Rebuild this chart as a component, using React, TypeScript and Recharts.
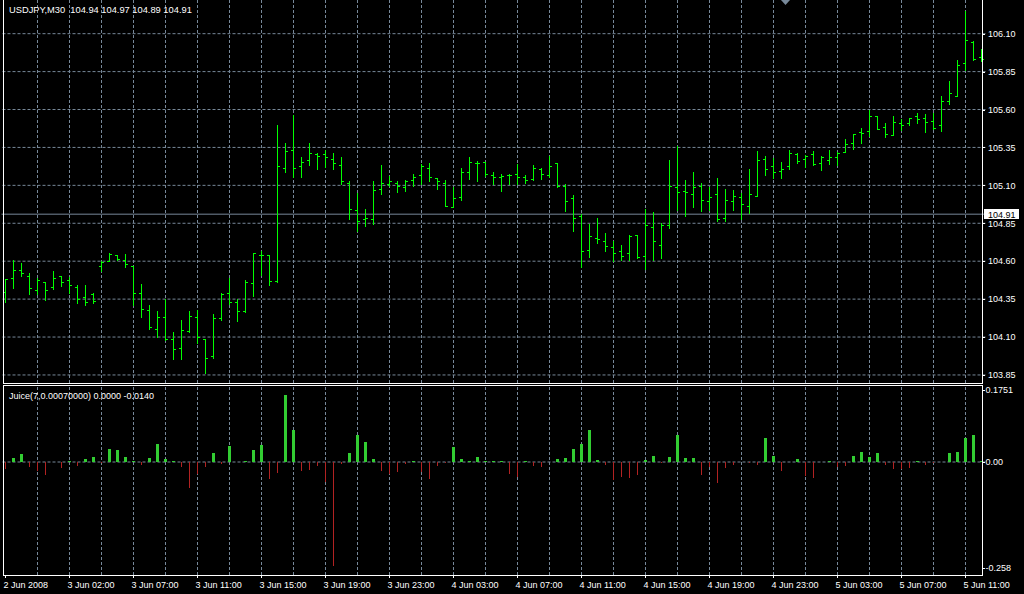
import React from 'react';
import { ComposedChart, BarChart, Bar, XAxis, YAxis, ReferenceLine } from 'recharts';

// ---------- data ----------
const symbolTitle = 'USDJPY,M30';
const lastOHLC = ['104.94', '104.97', '104.89', '104.91'];
const indicatorTitle = 'Juice(7,0.00070000) 0.0000 -0.0140';
const currentPrice = 104.91;

const opens = [
  104.40, 104.486, 104.545, 104.503, 104.413, 104.466, 104.429, 104.501, 104.479, 104.429,
  104.365, 104.387, 104.567, 104.602, 104.640, 104.607, 104.569, 104.393, 104.277, 104.152,
  104.233, 104.086, 104.026, 104.138, 104.235, 104.086, 103.976, 104.224, 104.391, 104.330,
  104.273, 104.459, 104.644, 104.644, 104.468, 105.213, 105.334, 105.226, 105.268, 105.308,
  105.308, 105.273, 105.233, 105.114, 104.938, 104.879, 104.879, 105.077, 105.108, 105.114,
  105.088, 105.138, 105.167, 105.215, 105.147, 105.114, 104.956, 105.022, 105.189, 105.246,
  105.255, 105.167, 105.152, 105.167, 105.174, 105.152, 105.145, 105.209, 105.167, 105.246,
  105.095, 105.018, 104.895, 104.671, 104.754, 104.730, 104.691, 104.664, 104.651, 104.776,
  104.631, 104.823, 104.710, 104.840, 105.086, 105.066, 105.040, 105.093, 104.996, 105.040,
  104.882, 104.996, 105.020, 104.961, 105.033, 105.271, 105.225, 105.192, 105.225, 105.306,
  105.271, 105.306, 105.249, 105.266, 105.284, 105.322, 105.381, 105.454, 105.456, 105.558,
  105.483, 105.434, 105.513, 105.513, 105.558, 105.542, 105.522, 105.496, 105.655, 105.692,
  105.906, 106.043, 105.946,
];
const highs = [
  104.481, 104.607, 104.589, 104.525, 104.486, 104.466, 104.538, 104.501, 104.497, 104.440,
  104.444, 104.393, 104.602, 104.657, 104.644, 104.646, 104.569, 104.451, 104.310, 104.270,
  104.352, 104.134, 104.211, 104.270, 104.281, 104.086, 104.251, 104.391, 104.486, 104.354,
  104.479, 104.657, 104.668, 104.644, 105.499, 105.380, 105.565, 105.286, 105.380, 105.314,
  105.336, 105.314, 105.286, 105.130, 105.048, 104.945, 105.130, 105.235, 105.160, 105.130,
  105.136, 105.176, 105.240, 105.248, 105.147, 105.136, 105.088, 105.215, 105.286, 105.262,
  105.255, 105.187, 105.176, 105.174, 105.242, 105.167, 105.233, 105.215, 105.295, 105.246,
  105.108, 105.037, 104.910, 104.842, 104.882, 104.783, 104.732, 104.704, 104.776, 104.776,
  104.941, 104.924, 104.855, 105.266, 105.359, 105.135, 105.187, 105.115, 105.088, 105.148,
  105.075, 105.069, 105.047, 105.205, 105.324, 105.291, 105.282, 105.251, 105.332, 105.313,
  105.302, 105.326, 105.291, 105.330, 105.322, 105.403, 105.441, 105.476, 105.600, 105.558,
  105.513, 105.555, 105.535, 105.542, 105.577, 105.571, 105.577, 105.688, 105.787, 105.924,
  106.250, 106.052, 106.000,
];
const lows = [
  104.332, 104.424, 104.503, 104.387, 104.387, 104.347, 104.420, 104.437, 104.393, 104.327,
  104.314, 104.327, 104.534, 104.600, 104.607, 104.563, 104.314, 104.233, 104.154, 104.097,
  104.081, 103.956, 103.956, 104.130, 104.064, 103.864, 103.965, 104.211, 104.321, 104.209,
  104.268, 104.371, 104.512, 104.446, 104.460, 105.191, 105.152, 105.152, 105.231, 105.209,
  105.224, 105.209, 105.108, 104.875, 104.798, 104.835, 104.842, 105.040, 105.099, 105.055,
  105.066, 105.095, 105.108, 105.130, 105.073, 104.963, 104.956, 105.002, 105.143, 105.130,
  105.160, 105.108, 105.066, 105.108, 105.108, 105.114, 105.136, 105.143, 105.152, 105.088,
  104.934, 104.802, 104.559, 104.629, 104.721, 104.664, 104.601, 104.605, 104.605, 104.623,
  104.546, 104.607, 104.620, 104.820, 104.939, 104.899, 104.959, 104.932, 104.937, 104.862,
  104.862, 104.939, 104.877, 104.919, 105.033, 105.170, 105.148, 105.150, 105.209, 105.249,
  105.220, 105.231, 105.198, 105.242, 105.233, 105.322, 105.341, 105.379, 105.425, 105.474,
  105.421, 105.434, 105.467, 105.500, 105.513, 105.452, 105.469, 105.458, 105.635, 105.690,
  105.862, 105.928, 105.920,
];
const closes = [
  104.481, 104.541, 104.519, 104.424, 104.479, 104.413, 104.490, 104.466, 104.440, 104.354,
  104.334, 104.340, 104.598, 104.646, 104.613, 104.580, 104.391, 104.288, 104.167, 104.233,
  104.086, 104.020, 104.149, 104.237, 104.097, 103.965, 104.224, 104.387, 104.330, 104.270,
  104.464, 104.657, 104.640, 104.468, 105.226, 105.325, 105.213, 105.257, 105.314, 105.292,
  105.286, 105.246, 105.130, 104.945, 104.862, 104.886, 105.070, 105.114, 105.130, 105.095,
  105.130, 105.152, 105.229, 105.152, 105.130, 104.963, 105.018, 105.189, 105.257, 105.246,
  105.174, 105.154, 105.160, 105.167, 105.154, 105.136, 105.215, 105.174, 105.229, 105.095,
  105.000, 104.886, 104.664, 104.763, 104.746, 104.702, 104.651, 104.631, 104.763, 104.625,
  104.836, 104.730, 104.836, 105.093, 105.055, 105.053, 105.086, 105.001, 105.020, 104.877,
  105.003, 105.033, 104.974, 105.040, 105.264, 105.205, 105.185, 105.211, 105.313, 105.262,
  105.291, 105.244, 105.286, 105.289, 105.315, 105.375, 105.441, 105.443, 105.560, 105.474,
  105.441, 105.520, 105.500, 105.542, 105.535, 105.516, 105.478, 105.655, 105.707, 105.893,
  106.056, 105.932, 105.930,
];
const juice = [
  -0.0170, 0.0097, 0.0195, -0.0122, -0.0219, -0.0316, 0, -0.0146, 0.0010, -0.0097,
  0.0073, 0.0122, -0.0024, 0.0316, 0.0292, 0.0122, 0.0032, -0.0073, 0.0097, 0.0438,
  0.0073, 0.0024, -0.0122, -0.0633, -0.0292, -0.0122, 0.0219, -0.0049, 0.0389, 0,
  0.0010, 0.0292, 0.0414, -0.0414, -0.0268, 0.1630, 0.0779, -0.0212, -0.0187, -0.0090,
  -0.0479, -0.2523, -0.0041, 0.0226, 0.0664, 0.0494, 0.0080, -0.0212, -0.0285, -0.0236,
  -0.0041, 0.0010, -0.0251, -0.0406, -0.0090, -0.0017, 0.0372, 0.0080, 0.0032, 0.0129,
  0.0032, 0.0010, 0.0010, -0.0299, -0.0358, 0.0010, -0.0090, -0.0114, 0, 0.0080,
  0.0105, 0.0324, 0.0445, 0.0786, 0.0056, -0.0066, -0.0431, -0.0358, -0.0382, -0.0309,
  0.0056, 0.0153, -0.0010, 0.0129, 0.0664, 0.0105, 0.0105, -0.0309, -0.0114, -0.0504,
  -0.0139, -0.0066, 0, -0.0010, -0.0066, 0.0591, 0.0153, -0.0212, 0, 0.0080,
  -0.0333, -0.0382, 0, 0.0007, -0.0114, -0.0090, 0.0153, 0.0251, 0.0129, 0.0226,
  -0.0066, -0.0163, -0.0163, -0.0139, 0.0010, -0.0066, -0.0017, 0, 0.0226, 0.0251,
  0.0591, 0.0664, 0.0032,
];
const timeLabels = [
  '2 Jun 2008', '3 Jun 02:00', '3 Jun 07:00', '3 Jun 11:00', '3 Jun 15:00', '3 Jun 19:00',
  '3 Jun 23:00', '4 Jun 03:00', '4 Jun 07:00', '4 Jun 11:00', '4 Jun 15:00', '4 Jun 19:00',
  '4 Jun 23:00', '5 Jun 03:00', '5 Jun 07:00', '5 Jun 11:00',
];
const priceTicks = [103.85, 104.10, 104.35, 104.60, 104.85, 105.10, 105.35, 105.60, 105.85, 106.10];
const priceDomain = [103.797, 106.322];
const juiceTicks = [0.1751, 0, -0.258];
const juiceTickLabels = ['0.1751', '0.00', '-0.258'];
const juiceDomain = [-0.2749, 0.1849];

// ---------- styles ----------
const FONT = "'Liberation Sans', Arial, sans-serif";
const GRID = '#778899';
const BAR_COLOR = '#00ff00';
const UP_COLOR = '#32cd32';
const DOWN_COLOR = '#b22222';
const LABELS_PER_TICK = 8;

const OhlcShape = (props: any) => {
  const { x, y, width, height, payload } = props;
  const cx = Math.floor(x + width / 2) + 0.5;
  const top = Math.min(y, y + height);
  const h = Math.abs(height);
  const rng = payload.high - payload.low;
  const pos = (v: number) => (rng > 0 ? top + ((payload.high - v) / rng) * h : top);
  const yo = Math.round(pos(payload.open)) + 0.5;
  const yc = Math.round(pos(payload.close)) + 0.5;
  return (
    <g stroke={BAR_COLOR} strokeWidth={1} shapeRendering="crispEdges">
      <line x1={cx} x2={cx} y1={Math.round(top)} y2={Math.round(top + h) + 1} />
      <line x1={cx - 2.5} x2={cx - 0.5} y1={yo} y2={yo} />
      <line x1={cx + 0.5} x2={cx + 2.5} y1={yc} y2={yc} />
    </g>
  );
};

const JuiceShape = (props: any) => {
  const { x, y, width, height, payload } = props;
  const v = payload.juice;
  if (!v) return <g />;
  const cx = Math.floor(x + width / 2);
  let top = Math.min(y, y + height);
  let h = Math.abs(height);
  if (h < 1) {
    if (v > 0) top = top + h - 1;
    h = 1;
  }
  const t = Math.round(top);
  const b = Math.max(t + 1, Math.round(top + h));
  if (v > 0)
    return <rect x={cx - 1} y={t} width={3} height={b - t} fill={UP_COLOR} shapeRendering="crispEdges" />;
  return <rect x={cx} y={t} width={1} height={b - t} fill={DOWN_COLOR} shapeRendering="crispEdges" />;
};

const PriceTick = (props: any) => {
  const { x, y, payload } = props;
  const v: number = payload.value;
  const label = v.toFixed(2);
  if (v === currentPrice) {
    const top = Math.round(y) - 5;
    return (
      <g>
        <rect x={x - 1.5} y={top} width={35} height={10} fill="#ffffff" />
        <text x={x + 2.5} y={top + 8.5} fill="#000000" fontSize={9} fontFamily={FONT}>{label}</text>
      </g>
    );
  }
  const ly = Math.round(y) + 0.5;
  return (
    <g>
      <line x1={x - 3.5} x2={x - 0.5} y1={ly} y2={ly} stroke="#ffffff" />
      <text x={x + 2.5} y={y} dy={3.3} fill="#ffffff" fontSize={9} fontFamily={FONT}>{label}</text>
    </g>
  );
};

const JuiceTick = (props: any) => {
  const { x, y, payload } = props;
  const idx = juiceTicks.indexOf(payload.value);
  const ly = Math.round(y) + 0.5;
  return (
    <g>
      <line x1={x - 3.5} x2={x - 0.5} y1={ly} y2={ly} stroke="#ffffff" />
      <text x={x} y={y} dy={3.3} fill="#ffffff" fontSize={9} fontFamily={FONT}>
        {idx >= 0 ? juiceTickLabels[idx] : ''}
      </text>
    </g>
  );
};

const TimeTick = (props: any) => {
  const { x, y, payload } = props;
  const label = timeLabels[Math.round(payload.value / LABELS_PER_TICK)] ?? '';
  return (
    <text x={x - 2} y={y} dy={8} fill="#ffffff" fontSize={9} fontFamily={FONT} textAnchor="start">
      {label}
    </text>
  );
};

export default function App() {
  const bars = opens.map((o, i) => ({
    i,
    open: o,
    high: highs[i],
    low: lows[i],
    close: closes[i],
    range: [lows[i], highs[i]],
  }));
  const juiceData = juice.map((v, i) => ({ i, juice: v }));
  const gridIdx = bars.filter((b) => b.i > 0 && b.i % 4 === 0).map((b) => b.i);

  return (
    <div
      style={{
        position: 'absolute',
        left: 0,
        top: 0,
        width: 1024,
        height: 594,
        background: '#000000',
        overflow: 'hidden',
        fontFamily: FONT,
      }}
    >
      <div style={{ position: 'absolute', left: 0, top: 0 }}>
        <ComposedChart
          width={1024}
          height={383}
          data={bars}
          margin={{ top: 0, right: 0, bottom: 0, left: 1.5 }}
          barCategoryGap={0}
          barGap={0}
        >
          <XAxis dataKey="i" type="category" hide />
          <YAxis
            orientation="right"
            width={38.5}
            type="number"
            domain={priceDomain}
            allowDataOverflow
            ticks={[...priceTicks, currentPrice]}
            interval={0}
            axisLine={false}
            tickLine={false}
            tickSize={0}
            tickMargin={0}
            tick={PriceTick}
          />
          {priceTicks.map((p) => (
            <ReferenceLine key={'h' + p} y={p} stroke={GRID} strokeDasharray="3 2" zIndex={-20} />
          ))}
          {gridIdx.map((i) => (
            <ReferenceLine key={'v' + i} x={i} stroke={GRID} strokeDasharray="3 2" zIndex={-20} />
          ))}
          <ReferenceLine y={currentPrice} stroke={GRID} zIndex={-10} />
          <Bar dataKey="range" shape={OhlcShape} isAnimationActive={false} />
        </ComposedChart>
      </div>

      <div style={{ position: 'absolute', left: 0, top: 386 }}>
        <BarChart
          width={1024}
          height={208}
          data={juiceData}
          margin={{ top: 0, right: 0, bottom: 0, left: 1.5 }}
          barCategoryGap={0}
          barGap={0}
        >
          <XAxis
            dataKey="i"
            type="category"
            interval={7}
            height={19}
            axisLine={false}
            tickLine={{ stroke: '#ffffff' }}
            tickSize={3}
            tickMargin={2}
            tick={TimeTick}
          />
          <YAxis
            orientation="right"
            width={38.5}
            type="number"
            domain={juiceDomain}
            allowDataOverflow
            ticks={juiceTicks}
            interval={0}
            axisLine={false}
            tickLine={false}
            tickSize={0}
            tickMargin={0}
            tick={JuiceTick}
          />
          {gridIdx.map((i) => (
            <ReferenceLine key={'jv' + i} x={i} stroke={GRID} strokeDasharray="3 2" zIndex={-20} />
          ))}
          <ReferenceLine y={0} stroke={GRID} strokeDasharray="3 2" zIndex={-20} />
          <Bar dataKey="juice" shape={JuiceShape} isAnimationActive={false} />
        </BarChart>
      </div>

      {/* panel frames */}
      <div
        style={{
          position: 'absolute',
          left: 3,
          top: -1,
          width: 980,
          height: 385,
          boxSizing: 'border-box',
          border: '1px solid #ffffff',
          pointerEvents: 'none',
        }}
      />
      <div
        style={{
          position: 'absolute',
          left: 3,
          top: 385,
          width: 980,
          height: 191,
          boxSizing: 'border-box',
          border: '1px solid #ffffff',
          pointerEvents: 'none',
        }}
      />

      {/* titles */}
      <div
        style={{
          position: 'absolute',
          left: 9,
          top: 5,
          color: '#ffffff',
          fontSize: 9.3,
          lineHeight: '10px',
          whiteSpace: 'pre',
        }}
      >
        {symbolTitle + '  ' + lastOHLC.join(' ')}
      </div>
      <div
        style={{
          position: 'absolute',
          left: 9,
          top: 391,
          color: '#ffffff',
          fontSize: 9,
          lineHeight: '10px',
          whiteSpace: 'pre',
        }}
      >
        {indicatorTitle}
      </div>

      {/* chart shift marker */}
      <svg style={{ position: 'absolute', left: 780, top: 0 }} width={11} height={7}>
        <polygon points="1,0 10,0 5.5,5" fill={GRID} />
      </svg>
    </div>
  );
}
